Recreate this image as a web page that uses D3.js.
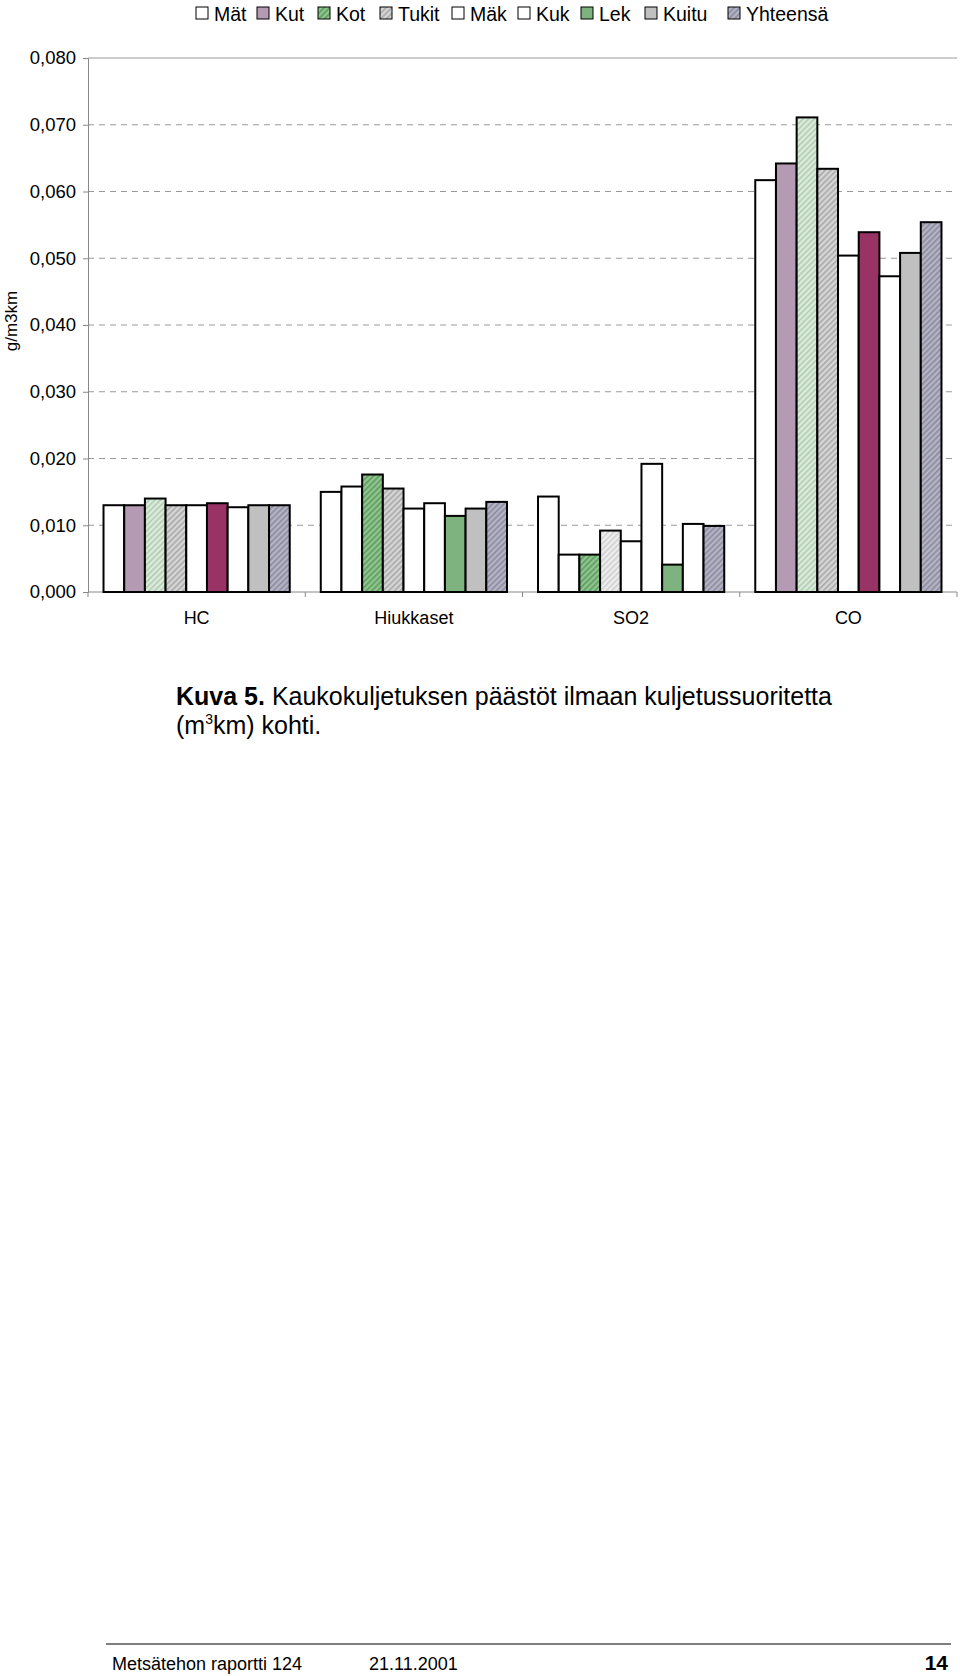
<!DOCTYPE html>
<html>
<head>
<meta charset="utf-8">
<script src="https://cdn.jsdelivr.net/npm/d3@7"></script>
<style>
  body { margin: 0; background: #fff; }
  svg { display: block; font-family: Arial, "Liberation Sans", sans-serif; }
</style>
</head>
<body>
<svg id="chart" width="960" height="1676"></svg>
<script>
// data (g / m3km)
const categories = ['HC', 'Hiukkaset', 'SO2', 'CO'];
const seriesNames = ['Mät', 'Kut', 'Kot', 'Tukit', 'Mäk', 'Kuk', 'Lek', 'Kuitu', 'Yhteensä'];
const hcValues = [0.0130, 0.0130, 0.0140, 0.0130, 0.0130, 0.0133, 0.0127, 0.0130, 0.0130];
const hiukkasetValues = [0.0150, 0.0158, 0.0176, 0.0155, 0.0125, 0.0133, 0.0114, 0.0125, 0.0135];
const so2Values = [0.0143, 0.0056, 0.0056, 0.0092, 0.0076, 0.0192, 0.0041, 0.0102, 0.0099];
const coValues = [0.0617, 0.0642, 0.0711, 0.0634, 0.0504, 0.0539, 0.0473, 0.0508, 0.0554];
const yTicks = [0, 0.01, 0.02, 0.03, 0.04, 0.05, 0.06, 0.07, 0.08];

const valuesByCategory = [hcValues, hiukkasetValues, so2Values, coValues];

// fill of each bar (Excel chart had per-point overrides)
const legendFills = ['white', 'mauve', 'greenHatch', 'grayHatch', 'white', 'white', 'green', 'gray', 'blueHatch'];
const barFills = [
  ['white', 'mauve', 'lightGreenHatch', 'grayHatch', 'white', 'darkRed', 'white', 'gray', 'blueHatch'],
  ['white', 'white', 'greenHatch', 'grayHatch', 'white', 'white', 'green', 'gray', 'blueHatch'],
  ['white', 'white', 'greenHatch', 'lightGrayHatch', 'white', 'white', 'green', 'white', 'blueHatch'],
  ['white', 'mauve', 'lightGreenHatch', 'grayHatch', 'white', 'darkRed', 'white', 'gray', 'blueHatch']
];

const svg = d3.select('#chart');
const defs = svg.append('defs');

const solid = { white: '#ffffff', mauve: '#b49ab3', darkRed: '#993366', green: '#7eb27e', gray: '#c0c0c0' };
const hatches = {
  greenHatch: ['#90c490', '#5c9c5c'],
  lightGreenHatch: ['#dcebdc', '#b0ccb0'],
  grayHatch: ['#d6d6d6', '#a8a8a8'],
  lightGrayHatch: ['#eeeeee', '#cfcfcf'],
  blueHatch: ['#b4b4c4', '#8a8aa0']
};

Object.entries(hatches).forEach(([id, [bg, fg]]) => {
  const p = defs.append('pattern')
    .attr('id', id)
    .attr('patternUnits', 'userSpaceOnUse')
    .attr('width', 4).attr('height', 4)
    .attr('patternTransform', 'rotate(45)');
  p.append('rect').attr('width', 4).attr('height', 4).attr('fill', bg);
  p.append('rect').attr('width', 1.6).attr('height', 4).attr('fill', fg);
});

const fillOf = f => solid[f] ? solid[f] : `url(#${f})`;

// plot area
const plotLeft = 88, plotRight = 957, plotTop = 58, plotBottom = 592;

const y = d3.scaleLinear().domain([0, 0.08]).range([plotBottom, plotTop]);
const x0 = d3.scaleBand().domain(categories).range([plotLeft, plotRight]).padding(0);
const gap = x0.bandwidth() * 1.5 / 10.5;
const x1 = d3.scaleBand().domain(seriesNames).range([gap / 2, x0.bandwidth() - gap / 2]).padding(0);

const fmt = v => d3.format('.3f')(v).replace('.', ',');

// gridlines (top one solid)
svg.append('g').selectAll('line')
  .data(yTicks.filter(t => t > 0))
  .join('line')
  .attr('x1', plotLeft).attr('x2', plotRight)
  .attr('y1', d => y(d)).attr('y2', d => y(d))
  .attr('stroke', '#9a9a9a')
  .attr('stroke-width', 1)
  .attr('stroke-dasharray', d => d === 0.08 ? null : '6,5');

// y axis
const yAxis = svg.append('g')
  .attr('transform', `translate(${plotLeft},0)`)
  .call(d3.axisLeft(y).tickValues(yTicks).tickFormat(fmt).tickSize(5).tickPadding(7));
yAxis.select('.domain').attr('stroke', '#888');
yAxis.selectAll('.tick line').attr('stroke', '#888');
yAxis.selectAll('text').attr('font-size', 18.5).attr('fill', '#000')
  .attr('font-family', 'Arial, "Liberation Sans", sans-serif');

// x axis: ticks between categories
const xAxisG = svg.append('g').attr('transform', `translate(0,${plotBottom})`);
xAxisG.append('line').attr('x1', plotLeft).attr('x2', plotRight).attr('stroke', '#888');
xAxisG.selectAll('line.tk')
  .data(d3.range(categories.length + 1))
  .join('line')
  .attr('class', 'tk')
  .attr('x1', i => plotLeft + i * x0.bandwidth())
  .attr('x2', i => plotLeft + i * x0.bandwidth())
  .attr('y1', 0).attr('y2', 5)
  .attr('stroke', '#888');
xAxisG.selectAll('text')
  .data(categories)
  .join('text')
  .attr('x', d => x0(d) + x0.bandwidth() / 2)
  .attr('y', 32)
  .attr('text-anchor', 'middle')
  .attr('font-size', 18)
  .text(d => d);

// y title
svg.append('text')
  .attr('transform', 'translate(17,321) rotate(-90)')
  .attr('text-anchor', 'middle')
  .attr('font-size', 17)
  .text('g/m3km');

// bars
const groups = svg.append('g').selectAll('g')
  .data(categories)
  .join('g')
  .attr('transform', d => `translate(${x0(d)},0)`);

groups.selectAll('rect')
  .data((c, ci) => seriesNames.map((s, si) => ({ s, v: valuesByCategory[ci][si], fill: barFills[ci][si] })))
  .join('rect')
  .attr('x', d => x1(d.s))
  .attr('width', x1.bandwidth())
  .attr('y', d => y(d.v))
  .attr('height', d => y(0) - y(d.v))
  .attr('fill', d => fillOf(d.fill))
  .attr('stroke', '#000')
  .attr('stroke-width', 2);

// legend
const legendX = [196, 257, 318, 380, 452, 518, 581, 645, 728];
const legend = svg.append('g').selectAll('g')
  .data(seriesNames)
  .join('g')
  .attr('transform', (d, i) => `translate(${legendX[i]},7)`);
legend.append('rect')
  .attr('width', 12).attr('height', 12)
  .attr('fill', (d, i) => fillOf(legendFills[i]))
  .attr('stroke', '#000').attr('stroke-width', 1);
legend.append('text')
  .attr('x', 18).attr('y', 13.5)
  .attr('font-size', 19.5)
  .text(d => d);

// caption
const cap = svg.append('text').attr('x', 176).attr('y', 705).attr('font-size', 25);
cap.append('tspan').attr('font-weight', 'bold').text('Kuva 5.');
cap.append('tspan').text(' Kaukokuljetuksen päästöt ilmaan kuljetussuoritetta');
const cap2 = svg.append('text').attr('x', 176).attr('y', 734).attr('font-size', 25);
cap2.append('tspan').text('(m');
cap2.append('tspan').attr('font-size', 14).attr('dy', -10).text('3');
cap2.append('tspan').attr('dy', 10).text('km) kohti.');

// footer
svg.append('line').attr('x1', 106).attr('x2', 951).attr('y1', 1644).attr('y2', 1644)
  .attr('stroke', '#000').attr('stroke-width', 1.2);
svg.append('text').attr('x', 112).attr('y', 1670).attr('font-size', 18).text('Metsätehon raportti 124');
svg.append('text').attr('x', 369).attr('y', 1670).attr('font-size', 18).text('21.11.2001');
svg.append('text').attr('x', 948).attr('y', 1670).attr('text-anchor', 'end')
  .attr('font-size', 21).attr('font-weight', 'bold').text('14');
</script>
</body>
</html>
